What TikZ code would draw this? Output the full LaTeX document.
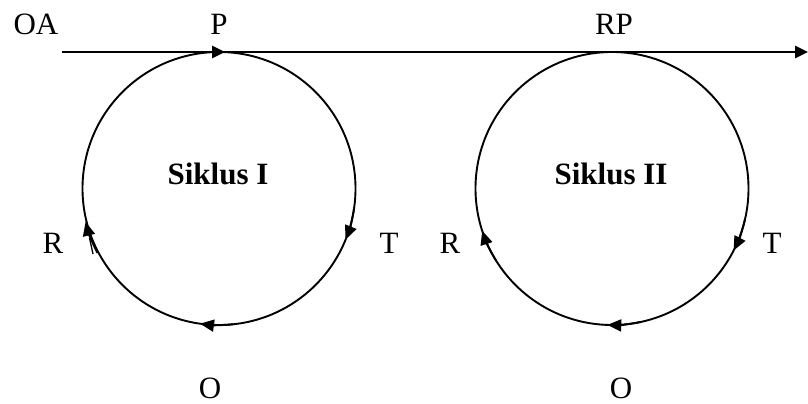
\documentclass[tikz,border=0pt]{standalone}
\usepackage{fontspec}
\setmainfont{Liberation Serif}
\usetikzlibrary{arrows.meta}

\tikzset{
  lbl/.style={inner sep=0pt, font=\fontsize{31}{36}\selectfont},
  title/.style={inner sep=0pt, font=\fontsize{31}{36}\selectfont\bfseries},
  mainline/.style={line width=2.6pt, -{Triangle[length=13pt,width=12pt]}},
  cyc/.style={line width=1.9pt},
  cycarrow/.style={line width=1.9pt, -{Triangle[length=14pt,width=12pt]}},
}

\begin{document}
\begin{tikzpicture}[x=1pt,y=1pt]
  \useasboundingbox (0,0) rectangle (808,404);

  % main timeline
  \coordinate (start) at (62,352);
  \coordinate (ptop)  at (225,352);
  \coordinate (stop)  at (808,352);
  \draw[mainline] (start) -- (ptop);
  \draw[mainline] (ptop) -- (stop);

  % cycle centres
  \coordinate (c1) at (219,215.5);
  \coordinate (c2) at (612,215.5);

  % cycle I, arrows run clockwise
  \draw[cyc] (c1) circle[radius=136.5];
  \draw[cycarrow] (c1) ++(-8:136.5) arc[start angle=-8, end angle=-22, radius=136.5];
  \draw[cycarrow] (c1) ++(-84:136.5) arc[start angle=-84, end angle=-98, radius=136.5];
  \draw[cycarrow] (c1) ++(-152:137.5) arc[start angle=-152, end angle=-166, radius=137.5];
  \draw[line width=1.3pt] (93,150) -- (89.5,166);

  % cycle II, arrows run clockwise
  \draw[cyc] (c2) circle[radius=136.5];
  \draw[cycarrow] (c2) ++(-13:136.5) arc[start angle=-13, end angle=-27, radius=136.5];
  \draw[cycarrow] (c2) ++(-78:136.5) arc[start angle=-78, end angle=-92, radius=136.5];
  \draw[cycarrow] (c2) ++(-148:136.5) arc[start angle=-148, end angle=-162, radius=136.5];

  % titles
  \node[title] (t1) at (218,230) {Siklus I};
  \node[title] (t2) at (611,230) {Siklus II};

  % labels
  \node[lbl] (oa) at (36,380) {OA};
  \node[lbl] (p)  at (219,380) {P};
  \node[lbl] (rp) at (614,380) {RP};
  \node[lbl] (r1) at (53,161) {R};
  \node[lbl] (t1l) at (389,161) {T};
  \node[lbl] (r2) at (450,161) {R};
  \node[lbl] (t2l) at (772,161) {T};
  \node[lbl] (o1) at (210,16) {O};
  \node[lbl] (o2) at (621,16) {O};
\end{tikzpicture}
\end{document}
